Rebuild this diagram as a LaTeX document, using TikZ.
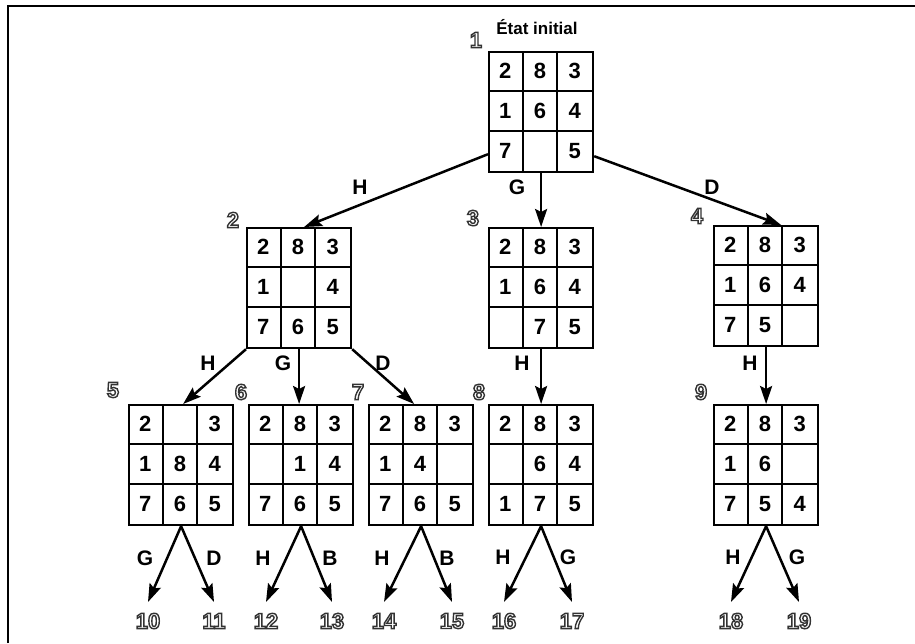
\documentclass[tikz,border=0pt]{standalone}
\usepackage{fontspec}
\setmainfont{Liberation Sans}
\usetikzlibrary{arrows.meta,calc}
\newcommand\hollow[1]{\special{pdf:literal direct q 2 Tr 1.4 w 0.2 G 1 g}#1\special{pdf:literal direct Q}}
\tikzset{
  gridbox/.style={draw, line width=2.2pt, minimum width=104pt, minimum height=120pt, inner sep=0pt, anchor=north west},
  gridline/.style={line width=2.2pt},
  digit/.style={font=\fontsize{22}{22}\selectfont\bfseries, inner sep=0pt},
  elabel/.style={font=\fontsize{21}{21}\selectfont\bfseries, inner sep=0pt},
  statelabel/.style={font=\fontsize{22}{22}\selectfont\bfseries, inner sep=0pt},
  arr/.style={line width=2.5pt, -{Stealth[length=18pt,width=12pt,inset=3pt]}},
}
\newcommand\taquin[4]{%
  \node[gridbox] (#1) at (#2,#3) {};
  \draw[gridline] ($(#1.north west)+(34.667,0)$) -- ($(#1.south west)+(34.667,0)$)
                  ($(#1.north west)+(69.333,0)$) -- ($(#1.south west)+(69.333,0)$)
                  ($(#1.north west)+(0,40)$) -- ($(#1.north east)+(0,40)$)
                  ($(#1.north west)+(0,80)$) -- ($(#1.north east)+(0,80)$);
  \foreach \d [count=\i from 0] in {#4} {%
    \ifnum\d=0\relax\else
      \pgfmathsetmacro\cx{(mod(\i,3)+0.5)*34.667}%
      \pgfmathsetmacro\cy{(floor(\i/3)+0.5)*40}%
      \node[digit] (#1-\i) at ($(#1.north west)+(\cx,\cy)$) {\d};
    \fi
  }%
}
\begin{document}
\begin{tikzpicture}[x=1pt,y=-1pt]
\useasboundingbox (0,0) rectangle (915,643);
\draw[line width=2.5pt] (8,643) -- (8,6) -- (915,6);

\node[font=\fontsize{17}{17}\selectfont\bfseries, inner sep=0pt] (title) at (537,27) {État initial};

\taquin{g1}{488}{51}{2,8,3,1,6,4,7,0,5}
\taquin{g2}{246}{227}{2,8,3,1,0,4,7,6,5}
\taquin{g3}{488}{227}{2,8,3,1,6,4,0,7,5}
\taquin{g4}{713}{225}{2,8,3,1,6,4,7,5,0}
\taquin{g5}{128}{404}{2,0,3,1,8,4,7,6,5}
\taquin{g6}{248}{404}{2,8,3,0,1,4,7,6,5}
\taquin{g7}{368}{404}{2,8,3,1,4,0,7,6,5}
\taquin{g8}{488}{404}{2,8,3,0,6,4,1,7,5}
\taquin{g9}{713}{404}{2,8,3,1,6,0,7,5,4}

% state numbers
\node[statelabel] (s1) at (476,40) {\hollow{1}};
\node[statelabel] (s2) at (233,220) {\hollow{2}};
\node[statelabel] (s3) at (473,218) {\hollow{3}};
\node[statelabel] (s4) at (697,216) {\hollow{4}};
\node[statelabel] (s5) at (113,390) {\hollow{5}};
\node[statelabel] (s6) at (241,392) {\hollow{6}};
\node[statelabel] (s7) at (358,392) {\hollow{7}};
\node[statelabel] (s8) at (479,392) {\hollow{8}};
\node[statelabel] (s9) at (701,392) {\hollow{9}};

% level 1 arrows
\draw[arr] ($(g1.south west)+(0,-19)$) -- ($(g2.north)+(5,0)$);
\draw[arr] (g1.south) -- (g3.north);
\draw[arr] ($(g1.south east)+(0,-17)$) -- ($(g4.north)+(15,0)$);
\node[elabel] (e12) at (360,187) {H};
\node[elabel] (e13) at (517,187) {G};
\node[elabel] (e14) at (712,187) {D};

% level 2 arrows
\draw[arr] (g2.south west) -- ($(g5.north)+(2,0)$);
\draw[arr] (g2.south) -- (g2.south |- g6.north);
\draw[arr] (g2.south east) -- ($(g7.north)+(-7,0)$);
\draw[arr] (g3.south) -- (g8.north);
\draw[arr] (g4.south) -- (g4.south |- g9.north);
\node[elabel] (e25) at (208,363) {H};
\node[elabel] (e26) at (283,363) {G};
\node[elabel] (e27) at (383,363) {D};
\node[elabel] (e38) at (522,363) {H};
\node[elabel] (e49) at (750,363) {H};

% leaves
\foreach \n/\x in {10/148,11/214,12/266,13/332,14/384,15/452,16/504,17/572,18/731,19/799}{
  \coordinate (t\n) at (\x,602);
  \node[statelabel] (n\n) at (\x,621) {\hollow{\n}};
}
\draw[arr] (g5.south) -- (t10);
\draw[arr] (g5.south) -- (t11);
\draw[arr] (g6.south) -- (t12);
\draw[arr] (g6.south) -- (t13);
\draw[arr] (g7.south) -- (t14);
\draw[arr] (g7.south) -- (t15);
\draw[arr] (g8.south) -- (t16);
\draw[arr] (g8.south) -- (t17);
\draw[arr] (g9.south) -- (t18);
\draw[arr] (g9.south) -- (t19);
\node[elabel] (e510) at (145,558) {G};
\node[elabel] (e511) at (214,558) {D};
\node[elabel] (e612) at (263,558) {H};
\node[elabel] (e613) at (330,558) {B};
\node[elabel] (e714) at (382,558) {H};
\node[elabel] (e715) at (447,558) {B};
\node[elabel] (e816) at (503,557) {H};
\node[elabel] (e817) at (568,557) {G};
\node[elabel] (e918) at (733,557) {H};
\node[elabel] (e919) at (797,557) {G};
\end{tikzpicture}
\end{document}
